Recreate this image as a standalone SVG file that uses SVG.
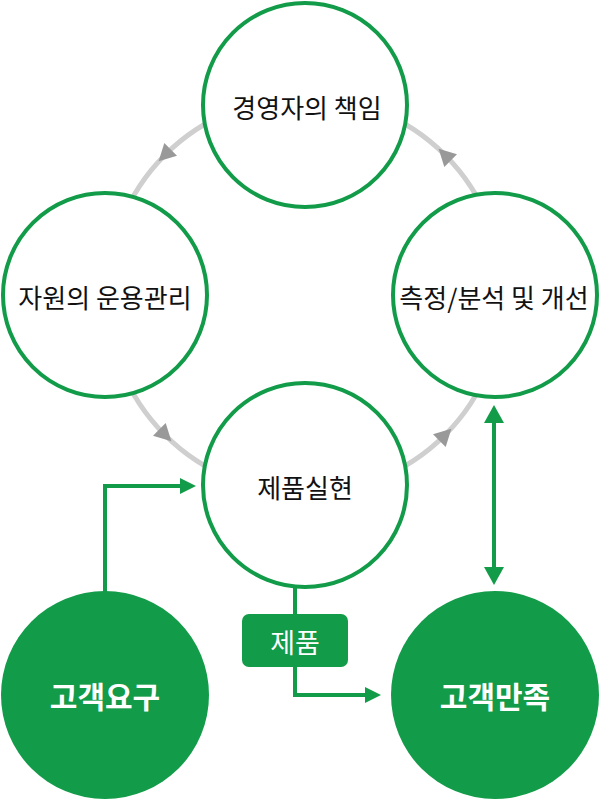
<svg xmlns="http://www.w3.org/2000/svg" width="600" height="800" viewBox="0 0 600 800">
<defs>
<style>
.node{fill:#fff;stroke:#129b48;stroke-width:4}
.fill{fill:#129b48;stroke:none}
.t{font-family:"Noto Sans CJK KR","Noto Sans",sans-serif;font-size:26px;fill:#111;text-anchor:middle;dominant-baseline:central}
.tw{font-family:"Noto Sans CJK KR","Noto Sans",sans-serif;font-size:30px;font-weight:bold;fill:#fff;text-anchor:middle;dominant-baseline:central}
.ring{fill:none;stroke:#cfcfcf;stroke-width:5}
.gar{fill:#999}
.gl{fill:none;stroke:#129b48;stroke-width:4}
.ga{fill:#129b48}
</style>
<polygon id="tri" points="9,0 -8,-9 -8,9"/>
</defs>
<g id="cycle-ring">
<circle class="ring" cx="305" cy="295" r="198"/>
</g>
<g id="connectors">
<use href="#tri" class="gar" transform="translate(165,155) rotate(135)"/>
<use href="#tri" class="gar" transform="translate(165,435) rotate(45)"/>
<use href="#tri" class="gar" transform="translate(445,435) rotate(-45)"/>
<use href="#tri" class="gar" transform="translate(445,155) rotate(-135)"/>
<polyline class="gl" points="105,592 105,486 182,486"/>
<polygon class="ga" points="196,486 180,478 180,494"/>
<polyline class="gl" points="295,588 295,695 366,695"/>
<polygon class="ga" points="381,695 365,687 365,703"/>
<line class="gl" x1="494" y1="420" x2="494" y2="570"/>
<polygon class="ga" points="494,405 484,423 504,423"/>
<polygon class="ga" points="494,585 484,567 504,567"/>
</g>
<g id="node-top">
<circle class="node" cx="305" cy="105" r="102"/>
<text class="t" x="307" y="106">경영자의 책임</text>
</g>
<g id="node-left">
<circle class="node" cx="105" cy="295" r="102"/>
<text class="t" x="105" y="296">자원의 운용관리</text>
</g>
<g id="node-right">
<circle class="node" cx="495" cy="295" r="102"/>
<text class="t" x="494" y="296">측정/분석 및 개선</text>
</g>
<g id="node-center">
<circle class="node" cx="305" cy="485" r="102"/>
<text class="t" x="305" y="486">제품실현</text>
</g>
<g id="node-demand">
<circle class="fill" cx="105" cy="695" r="104"/>
<text class="tw" x="105" y="695">고객요구</text>
</g>
<g id="node-satisfaction">
<circle class="fill" cx="495" cy="695" r="104"/>
<text class="tw" x="495" y="695">고객만족</text>
</g>
<g id="label-product">
<rect class="fill" x="242" y="614" width="106" height="53" rx="7"/>
<text class="tw" x="295" y="641" style="font-weight:normal;font-size:27px">제품</text>
</g>
</svg>
